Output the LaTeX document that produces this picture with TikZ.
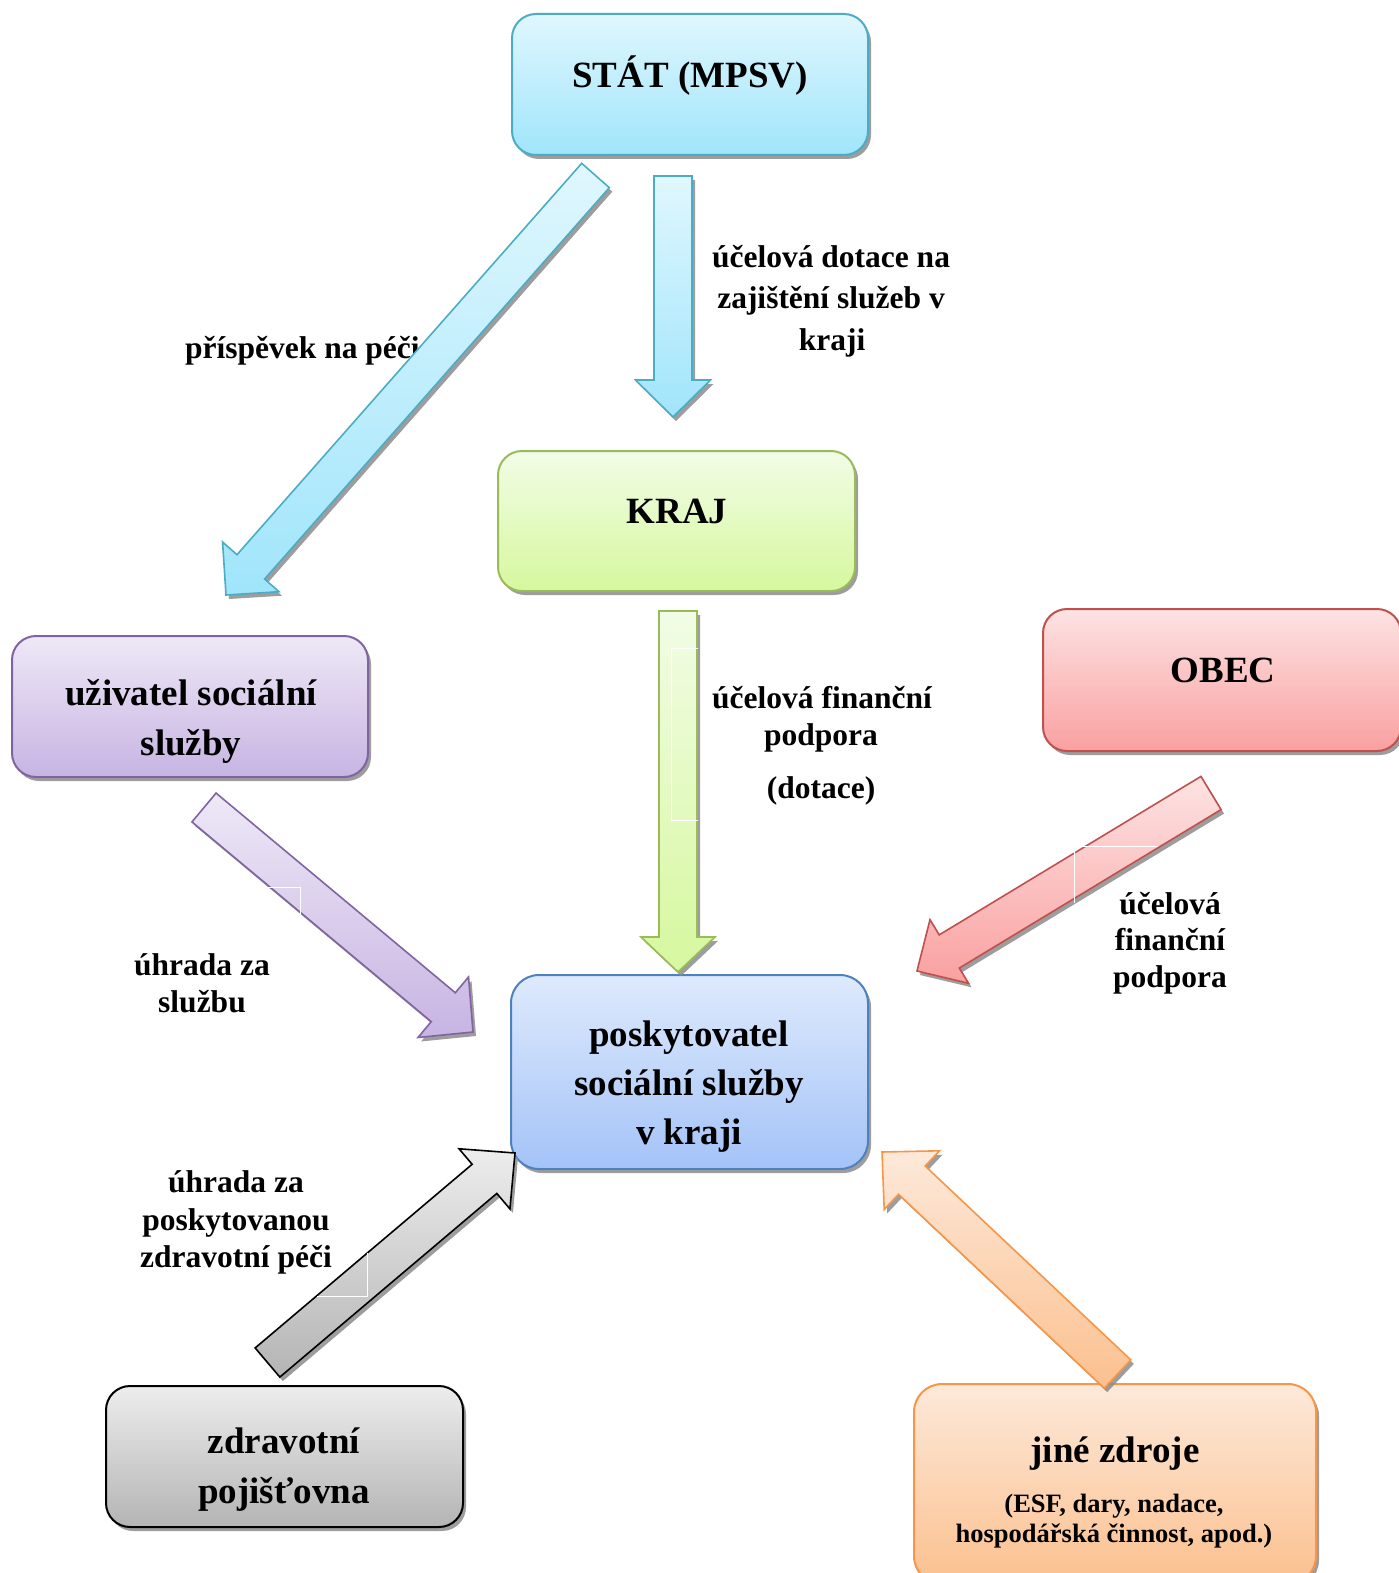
\documentclass[tikz,border=0pt]{standalone}
\usepackage{fontspec}
\setmainfont{Liberation Serif}
\usetikzlibrary{calc,shadows}
\definecolor{cyanT}{HTML}{E0F7FE}
\definecolor{cyanB}{HTML}{A0E5FB}
\definecolor{cyanL}{HTML}{4BACC6}
\definecolor{greenT}{HTML}{F2FCE6}
\definecolor{greenB}{HTML}{D6F89E}
\definecolor{greenL}{HTML}{9BBB59}
\definecolor{purpT}{HTML}{EEE8F6}
\definecolor{purpB}{HTML}{C7B4E3}
\definecolor{purpL}{HTML}{8064A2}
\definecolor{redT}{HTML}{FDE3E3}
\definecolor{redB}{HTML}{FAA0A0}
\definecolor{redL}{HTML}{C0504D}
\definecolor{grayT}{HTML}{EDEDED}
\definecolor{grayB}{HTML}{B4B4B4}
\definecolor{orT}{HTML}{FDE9DA}
\definecolor{orB}{HTML}{FBC08E}
\definecolor{orL}{HTML}{F79646}
\definecolor{blueT}{HTML}{DEEAFD}
\definecolor{blueB}{HTML}{A4C3F7}
\definecolor{blueL}{HTML}{4F81BD}
\tikzset{
  shad/.style={drop shadow={shadow xshift=3pt,shadow yshift=-4pt,fill=black!45,opacity=0.85}},
  boxbase/.style={shape=rectangle,line width=2pt,rounded corners=24pt,inner sep=0pt,outer sep=0pt,shad},
  cyanbox/.style={boxbase,draw=cyanL,top color=cyanT,bottom color=cyanB},
  greenbox/.style={boxbase,draw=greenL,top color=greenT,bottom color=greenB},
  purpbox/.style={boxbase,draw=purpL,top color=purpT,bottom color=purpB},
  redbox/.style={boxbase,draw=redL,top color=redT,bottom color=redB},
  graybox/.style={boxbase,draw=black,top color=grayT,bottom color=grayB},
  orbox/.style={boxbase,draw=orL,top color=orT,bottom color=orB},
  bluebox/.style={boxbase,draw=blueL,top color=blueT,bottom color=blueB},
  arrbase/.style={line width=1.6pt,line join=miter,shad},
  cyanarr/.style={arrbase,draw=cyanL,top color=cyanT,bottom color=cyanB},
  greenarr/.style={arrbase,draw=greenL,top color=greenT,bottom color=greenB},
  purparr/.style={arrbase,draw=purpL,top color=purpT,bottom color=purpB},
  redarr/.style={arrbase,draw=redL,top color=redT,bottom color=redB},
  grayarr/.style={arrbase,draw=black,top color=grayT,bottom color=grayB},
  orarr/.style={arrbase,draw=orL,top color=orT,bottom color=orB},
  boxtext/.style={anchor=base,inner sep=0pt,font=\fontsize{37}{44}\selectfont\bfseries},
  smalltext/.style={anchor=base,inner sep=0pt,font=\fontsize{26.5}{31}\selectfont\bfseries},
  lbl/.style={anchor=base,inner sep=0pt,font=\fontsize{31.5}{37}\selectfont\bfseries},
  tbframe/.style={draw=white,line width=1pt}
}
% #1 name, #2 style, #3 tail, #4 tip, #5 shaft half width, #6 head half width, #7 head length
\newcommand\blockarrow[7]{%
  \coordinate (#1-b) at ($(#4)!#7!(#3)$);
  \path[#2] ($(#3)!#5!90:(#4)$) -- ($(#1-b)!#5!-90:(#3)$) -- ($(#1-b)!#6!-90:(#3)$)
     -- (#4) -- ($(#1-b)!#6!90:(#3)$) -- ($(#1-b)!#5!90:(#3)$) -- ($(#3)!#5!-90:(#4)$) -- cycle;
}
\begin{document}
\begin{tikzpicture}[x=1pt,y=-1pt]
\useasboundingbox (0,0) rectangle (1399,1573);
\clip (0,0) rectangle (1399,1573);

% boxes
\node[cyanbox,minimum width=356pt,minimum height=141pt] (stat) at (690,84.5) {};
\node[greenbox,minimum width=357pt,minimum height=140pt] (kraj) at (676.5,521) {};
\node[redbox,minimum width=358pt,minimum height=142pt] (obec) at (1222,680) {};
\node[purpbox,minimum width=356pt,minimum height=141pt] (uziv) at (190,706.5) {};
\node[bluebox,minimum width=357pt,minimum height=194pt,rounded corners=28pt] (posk) at (689.5,1072) {};
\node[graybox,minimum width=357pt,minimum height=141pt] (zdrav) at (284.5,1456.5) {};
\node[orbox,minimum width=402pt,minimum height=200pt,rounded corners=28pt] (jine) at (1115,1484) {};

% box texts
\node[boxtext] (tstat) at (690,88) {STÁT (MPSV)};
\node[boxtext] (tkraj) at (677,523) {KRAJ};
\node[boxtext] (tobec) at (1223,682) {OBEC};
\node[boxtext] (tuz1) at (191,705) {uživatel sociální};
\node[boxtext] (tuz2) at (191,755) {služby};
\node[boxtext] (tpo1) at (689,1046) {poskytovatel};
\node[boxtext] (tpo2) at (689,1095) {sociální služby};
\node[boxtext] (tpo3) at (689,1144) {v kraji};
\node[boxtext] (tzd1) at (284,1453) {zdravotní};
\node[boxtext] (tzd2) at (284,1503) {pojišťovna};
\node[boxtext] (tji1) at (1115,1462) {jiné zdroje};
\node[smalltext] (tji2) at (1114,1512) {(ESF, dary, nadace,};
\node[smalltext] (tji3) at (1114,1542) {hospodářská činnost, apod.)};

% labels
\node[lbl,anchor=base west] (lpr) at (185,358) {příspěvek na péči};
\node[lbl] (lud1) at (831,267) {účelová dotace na};
\node[lbl] (lud2) at (831,308) {zajištění služeb v};
\node[lbl] (lud3) at (832,350) {kraji};
\node[lbl] (luf1) at (822,708) {účelová finanční};
\node[lbl] (luf2) at (821,745) {podpora};
\node[lbl] (luf3) at (821,798) {(dotace)};
\node[lbl] (lob1) at (1170,914) {účelová};
\node[lbl] (lob2) at (1170,950) {finanční};
\node[lbl] (lob3) at (1170,987) {podpora};
\node[lbl] (luh1) at (202,975) {úhrada za};
\node[lbl] (luh2) at (202,1012) {službu};
\node[lbl] (lzp1) at (236,1192) {úhrada za};
\node[lbl] (lzp2) at (236,1230) {poskytovanou};
\node[lbl] (lzp3) at (236,1267) {zdravotní péči};

% arrow end points
\coordinate (a1t) at (673,176);   \coordinate (a1h) at (673,417);
\coordinate (a2t) at (595.5,175.5); \coordinate (a2h) at (226,595);
\coordinate (a3t) at (678,611);   \coordinate (a3h) at (678,972);
\coordinate (a4t) at (204,807.5); \coordinate (a4h) at (473,1032);
\coordinate (a5t) at (1211,793);  \coordinate (a5h) at (917,971);
\coordinate (a6t) at (267.5,1362.5); \coordinate (a6h) at (515,1153);
\coordinate (a7t) at (1117.5,1374); \coordinate (a7h) at (882,1152);

\blockarrow{a1}{cyanarr}{a1t}{a1h}{19pt}{37.5pt}{37pt}
\blockarrow{a2}{cyanarr}{a2t}{a2h}{18.4pt}{37.6pt}{37.5pt}
\blockarrow{a3}{greenarr}{a3t}{a3h}{19pt}{37pt}{35pt}
\blockarrow{a4}{purparr}{a4t}{a4h}{18.8pt}{39.4pt}{38.7pt}
\blockarrow{a5}{redarr}{a5t}{a5h}{19.4pt}{37.2pt}{37.7pt}
\blockarrow{a6}{grayarr}{a6t}{a6h}{19.1pt}{39.4pt}{40pt}
\blockarrow{a7}{orarr}{a7t}{a7h}{19.4pt}{40.3pt}{41pt}

% faint text-box frames over the arrows
\draw[tbframe] (698,648) -- (671,648) -- (671,820) -- (698,820);
\draw[tbframe] (262,887) -- (300,887) -- (300,916);
\draw[tbframe] (1158,846) -- (1074,846) -- (1074,903);
\draw[tbframe] (367,1253) -- (367,1296) -- (317,1296);
\end{tikzpicture}
\end{document}
